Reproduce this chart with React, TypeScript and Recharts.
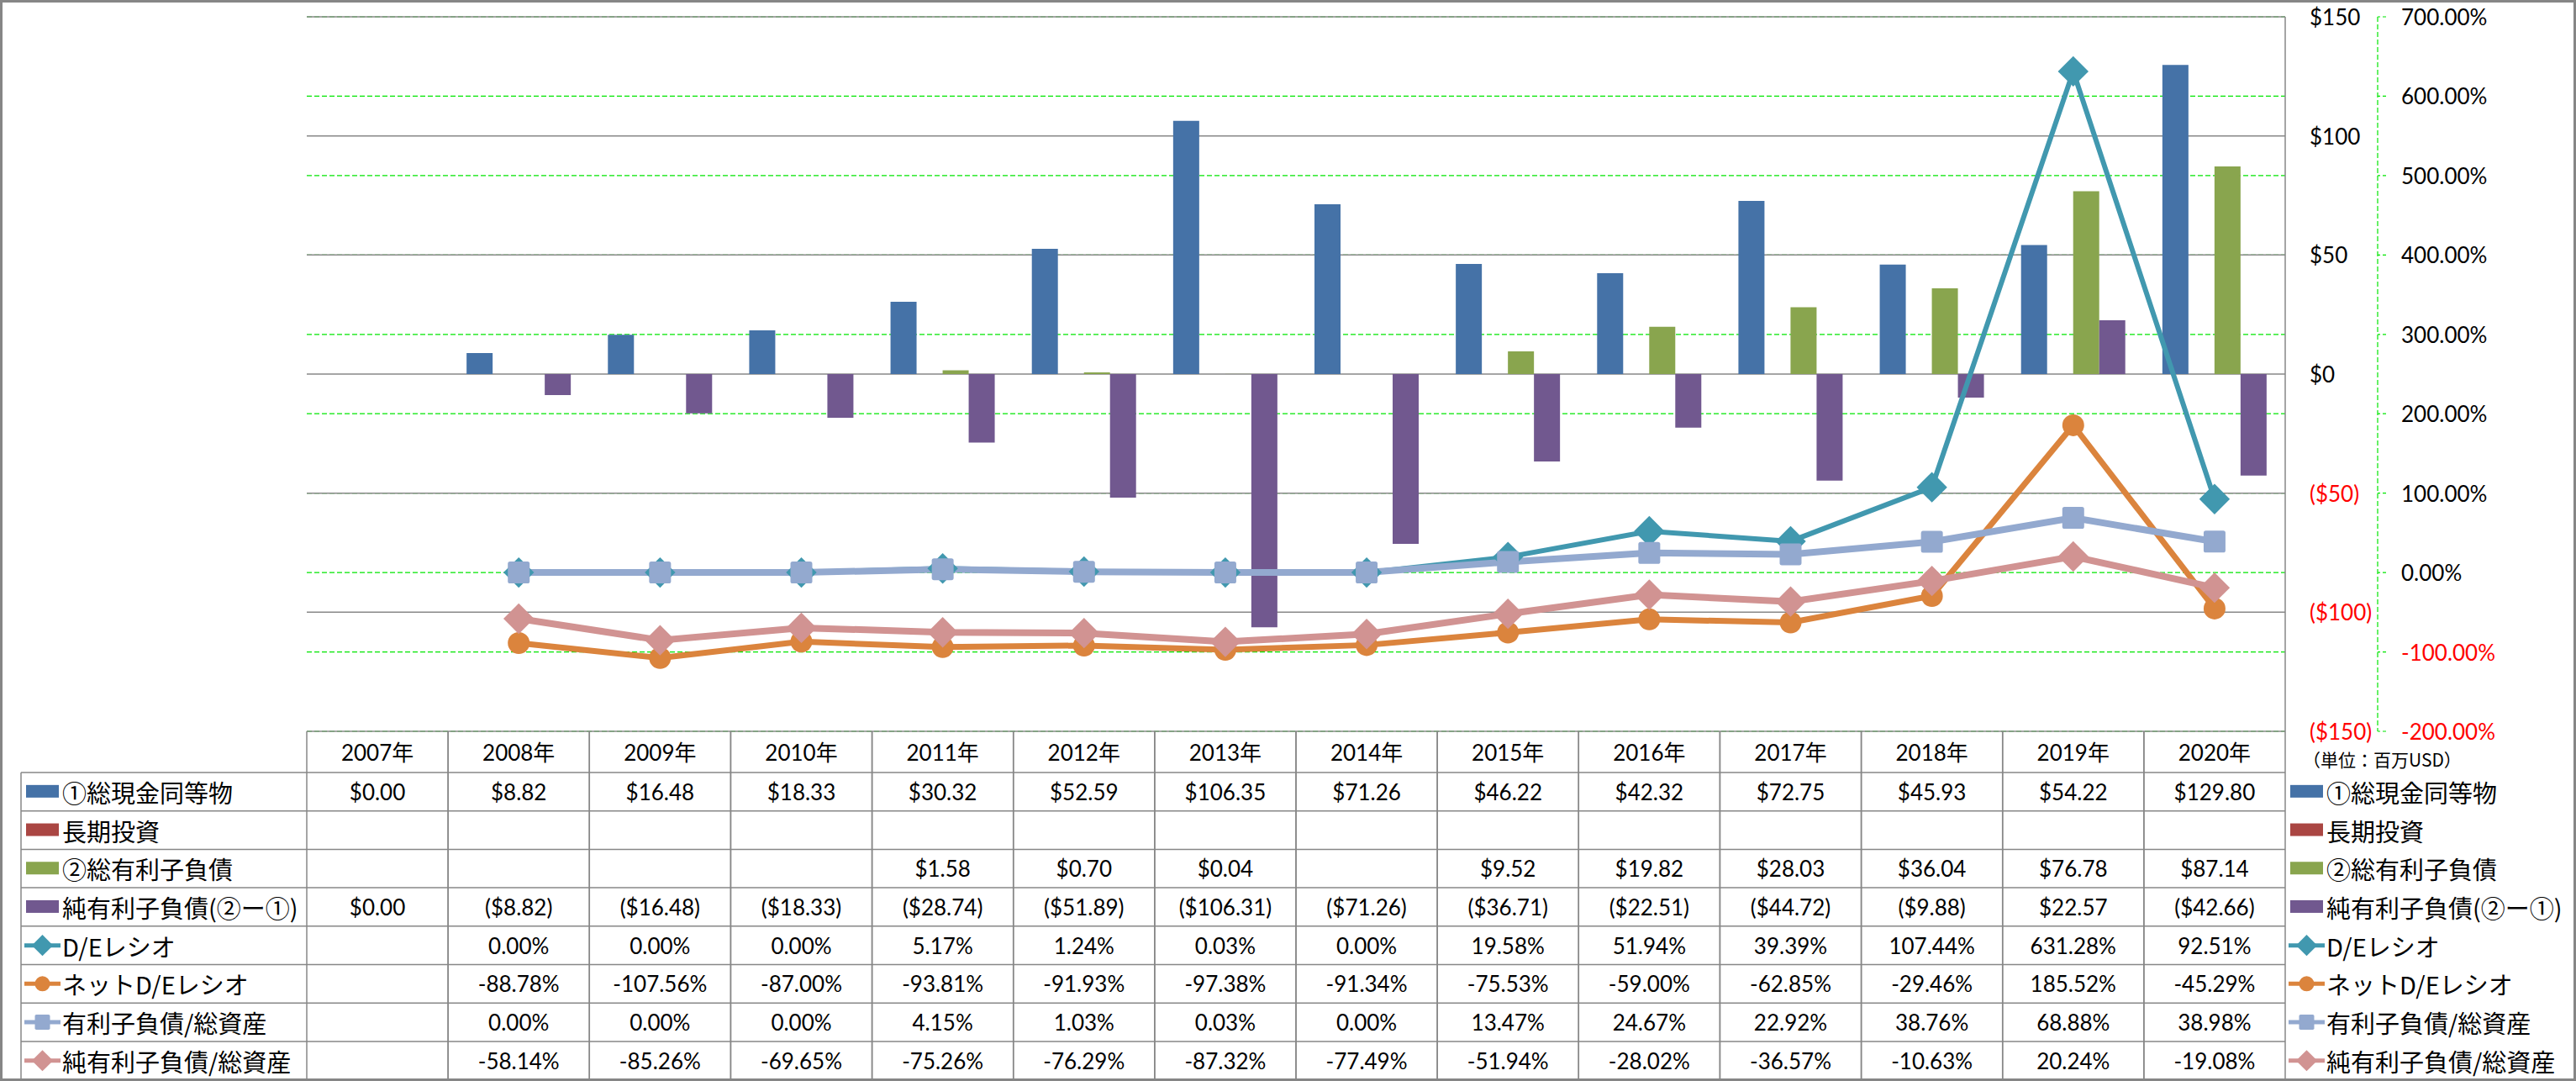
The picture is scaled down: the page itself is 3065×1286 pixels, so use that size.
import React from 'react';
import { ComposedChart, Bar, Line, XAxis, YAxis, CartesianGrid } from 'recharts';

// 単位: 百万USD / %
const years = ['2007年', '2008年', '2009年', '2010年', '2011年', '2012年', '2013年', '2014年', '2015年', '2016年', '2017年', '2018年', '2019年', '2020年'];
const cash = [0, 8.82, 16.48, 18.33, 30.32, 52.59, 106.35, 71.26, 46.22, 42.32, 72.75, 45.93, 54.22, 129.8];
const longTermInvest = [null, null, null, null, null, null, null, null, null, null, null, null, null, null];
const debt = [null, null, null, null, 1.58, 0.7, 0.04, null, 9.52, 19.82, 28.03, 36.04, 76.78, 87.14];
const netDebt = [0, -8.82, -16.48, -18.33, -28.74, -51.89, -106.31, -71.26, -36.71, -22.51, -44.72, -9.88, 22.57, -42.66];
const deRatio = [null, 0, 0, 0, 5.17, 1.24, 0.03, 0, 19.58, 51.94, 39.39, 107.44, 631.28, 92.51];
const netDeRatio = [null, -88.78, -107.56, -87.0, -93.81, -91.93, -97.38, -91.34, -75.53, -59.0, -62.85, -29.46, 185.52, -45.29];
const debtToAssets = [null, 0, 0, 0, 4.15, 1.03, 0.03, 0, 13.47, 24.67, 22.92, 38.76, 68.88, 38.98];
const netDebtToAssets = [null, -58.14, -85.26, -69.65, -75.26, -76.29, -87.32, -77.49, -51.94, -28.02, -36.57, -10.63, 20.24, -19.08];

const usdTicks = [-150, -100, -50, 0, 50, 100, 150];
const pctTicks = [-200, -100, 0, 100, 200, 300, 400, 500, 600, 700];

const W = 3065;
const H = 1286;
const M_LEFT = 365;
const M_TOP = 20;
const USD_W = 110;
const PCT_W = 200;
const M_RIGHT = 36;
const TABLE_H = H - 870;
const PLOT_W = W - M_LEFT - USD_W - PCT_W - M_RIGHT;
const BAND = PLOT_W / years.length;
const HEADER_H = 49;
const ROW_H = 45.7;

const GRID = '#878787';
const GREEN = '#00E600';
const NUM_FONT = "Lato, 'Noto Sans CJK JP', sans-serif";
const JP_FONT = "'Noto Sans CJK JP', sans-serif";

const usd = (v: number | null) => (v == null ? '' : v < 0 ? `($${Math.abs(v).toFixed(2)})` : `$${v.toFixed(2)}`);
const pct = (v: number | null) => (v == null ? '' : `${v.toFixed(2)}%`);

type Kind = 'bar' | 'diamond' | 'circle' | 'square';
const SERIES: { key: string; name: string; color: string; kind: Kind; values: (number | null)[]; fmt: (v: number | null) => string; width?: number }[] = [
  { key: 'cash', name: '①総現金同等物', color: '#4572A7', kind: 'bar', values: cash, fmt: usd },
  { key: 'lti', name: '長期投資', color: '#AA4643', kind: 'bar', values: longTermInvest, fmt: usd },
  { key: 'debt', name: '②総有利子負債', color: '#89A54E', kind: 'bar', values: debt, fmt: usd },
  { key: 'net', name: '純有利子負債(②ー①)', color: '#71588F', kind: 'bar', values: netDebt, fmt: usd },
  { key: 'de', name: 'D/Eレシオ', color: '#4198AF', kind: 'diamond', values: deRatio, fmt: pct, width: 6 },
  { key: 'netde', name: 'ネットD/Eレシオ', color: '#DB843D', kind: 'circle', values: netDeRatio, fmt: pct, width: 7 },
  { key: 'dta', name: '有利子負債/総資産', color: '#93A9CF', kind: 'square', values: debtToAssets, fmt: pct, width: 8 },
  { key: 'ndta', name: '純有利子負債/総資産', color: '#D19392', kind: 'diamond', values: netDebtToAssets, fmt: pct, width: 8 },
];

const data = years.map((year, i) => {
  const row: Record<string, string | number | null> = { year };
  SERIES.forEach((s) => (row[s.key] = s.values[i]));
  return row;
});

function Shape({ kind, cx, cy, color, s }: { kind: Kind; cx: number; cy: number; color: string; s: number }) {
  if (kind === 'diamond') {
    const r = s * 1.4;
    return <polygon points={`${cx},${cy - r} ${cx + r},${cy} ${cx},${cy + r} ${cx - r},${cy}`} fill={color} />;
  }
  if (kind === 'circle') return <circle cx={cx} cy={cy} r={s} fill={color} />;
  return <rect x={cx - s} y={cy - s} width={s * 2} height={s * 2} rx={s * 0.2} fill={color} />;
}

const renderDot = (kind: Kind, color: string) => (p: any) => {
  if (p.cx == null || p.cy == null || p.value == null) return <g key={p.key ?? p.index} />;
  return (
    <g key={p.key ?? p.index}>
      <Shape kind={kind} cx={p.cx} cy={p.cy} color={color} s={13} />
    </g>
  );
};

function UsdTick({ x, y, payload }: any) {
  const v = payload.value as number;
  const label = v < 0 ? `($${Math.abs(v)})` : `$${v}`;
  return (
    <text x={x} y={y} textAnchor="start" dominantBaseline="central" fontSize={26} fontFamily={NUM_FONT} fill={v < 0 ? '#FF0000' : '#000'}>
      {label}
    </text>
  );
}

function PctTick({ x, y, payload }: any) {
  const v = payload.value as number;
  return (
    <text x={x} y={y} textAnchor="start" dominantBaseline="central" fontSize={26} fontFamily={NUM_FONT} fill={v < 0 ? '#FF0000' : '#000'}>
      {`${v.toFixed(2)}%`}
    </text>
  );
}

// data table column drawn under each category
function TableColumn({ x, y, payload }: any) {
  const i = payload.index as number;
  const left = x - BAND / 2;
  const right = x + BAND / 2;
  const bottom = y + HEADER_H + ROW_H * SERIES.length;
  return (
    <g>
      <line x1={left} y1={y} x2={left} y2={bottom} stroke={GRID} strokeWidth={1.5} />
      <line x1={right} y1={y} x2={right} y2={bottom} stroke={GRID} strokeWidth={1.5} />
      <line x1={left} y1={bottom} x2={right} y2={bottom} stroke={GRID} strokeWidth={1.5} />
      <text x={x} y={y + HEADER_H / 2} textAnchor="middle" dominantBaseline="central" fontSize={26} fontFamily={NUM_FONT} fill="#000">
        {payload.value}
      </text>
      {SERIES.map((s, r) => {
        const top = y + HEADER_H + r * ROW_H;
        return (
          <g key={s.key}>
            <line x1={left} y1={top} x2={right} y2={top} stroke={GRID} strokeWidth={1.5} />
            <text x={x} y={top + ROW_H / 2} textAnchor="middle" dominantBaseline="central" fontSize={26} fontFamily={NUM_FONT} fill="#000">
              {s.fmt(s.values[i])}
            </text>
          </g>
        );
      })}
    </g>
  );
}

function LegendKey({ s, x, cy }: { s: (typeof SERIES)[number]; x: number; cy: number }) {
  if (s.kind === 'bar') return <rect x={x} y={cy - 8} width={39} height={15} fill={s.color} />;
  return (
    <g>
      <line x1={x - 2} y1={cy} x2={x + 41} y2={cy} stroke={s.color} strokeWidth={5} />
      <Shape kind={s.kind} cx={x + 19.5} cy={cy} color={s.color} s={9} />
    </g>
  );
}

function Legends() {
  const top = 870 + HEADER_H;
  const bottom = top + ROW_H * SERIES.length;
  return (
    <svg width={W} height={H} style={{ position: 'absolute', left: 0, top: 0, pointerEvents: 'none' }}>
      <line x1={25} y1={top} x2={25} y2={bottom} stroke={GRID} strokeWidth={1.5} />
      <line x1={25} y1={bottom} x2={M_LEFT} y2={bottom} stroke={GRID} strokeWidth={1.5} />
      {SERIES.map((s, r) => {
        const y0 = top + r * ROW_H;
        const cy = y0 + ROW_H / 2;
        return (
          <g key={s.key}>
            <line x1={25} y1={y0} x2={M_LEFT} y2={y0} stroke={GRID} strokeWidth={1.5} />
            <LegendKey s={s} x={31} cy={cy} />
            <text x={74} y={cy} dominantBaseline="central" fontSize={29} fontFamily={JP_FONT} fill="#000">
              {s.name}
            </text>
            <LegendKey s={s} x={2725} cy={cy} />
            <text x={2768} y={cy} dominantBaseline="central" fontSize={29} fontFamily={JP_FONT} fill="#000">
              {s.name}
            </text>
          </g>
        );
      })}
      <text x={2740} y={903} dominantBaseline="central" fontSize={21} fontFamily={JP_FONT} fill="#000">
        （単位：百万USD）
      </text>
      <rect x={1.5} y={1.5} width={W - 3} height={H - 3} fill="none" stroke="#868686" strokeWidth={3} />
    </svg>
  );
}

export default function App() {
  return (
    <div style={{ position: 'absolute', left: 0, top: 0, width: W, height: H, background: '#fff' }}>
      <ComposedChart
        width={W}
        height={H}
        data={data}
        margin={{ top: M_TOP, right: M_RIGHT, bottom: 0, left: M_LEFT }}
        barCategoryGap={22}
        barGap={0}
      >
        <CartesianGrid yAxisId="b" vertical={false} stroke={GREEN} strokeDasharray="6 3" strokeWidth={1.2} />
        <CartesianGrid yAxisId="a" vertical={false} stroke={GRID} strokeWidth={1.5} />
        <XAxis
          dataKey="year"
          height={TABLE_H}
          interval={0}
          axisLine={false}
          tickLine={false}
          tickSize={0}
          tickMargin={0}
          tick={<TableColumn />}
        />
        {/* % axis (outer) */}
        <YAxis
          yAxisId="b"
          orientation="right"
          width={PCT_W}
          domain={[-200, 700]}
          ticks={pctTicks}
          interval={0}
          axisLine={{ stroke: GREEN, strokeDasharray: '6 3', strokeWidth: 1.2 }}
          tickLine={{ stroke: GREEN, strokeDasharray: '4 3', strokeWidth: 1.2 }}
          tickSize={10}
          tickMargin={18}
          tick={<PctTick />}
        />
        {/* USD axis (inner, next to plot) */}
        <YAxis
          yAxisId="a"
          orientation="right"
          width={USD_W}
          domain={[-150, 150]}
          ticks={usdTicks}
          interval={0}
          axisLine={{ stroke: GRID, strokeWidth: 1.5 }}
          tickLine={false}
          tickSize={0}
          tickMargin={29}
          tick={<UsdTick />}
        />
        {SERIES.filter((s) => s.kind === 'bar').map((s) => (
          <Bar key={s.key} yAxisId="a" dataKey={s.key} name={s.name} fill={s.color} isAnimationActive={false} />
        ))}
        {SERIES.filter((s) => s.kind !== 'bar').map((s) => (
          <Line
            key={s.key}
            yAxisId="b"
            type="linear"
            dataKey={s.key}
            name={s.name}
            stroke={s.color}
            strokeWidth={s.width}
            dot={renderDot(s.kind, s.color)}
            activeDot={false}
            isAnimationActive={false}
          />
        ))}
      </ComposedChart>
      <Legends />
    </div>
  );
}
